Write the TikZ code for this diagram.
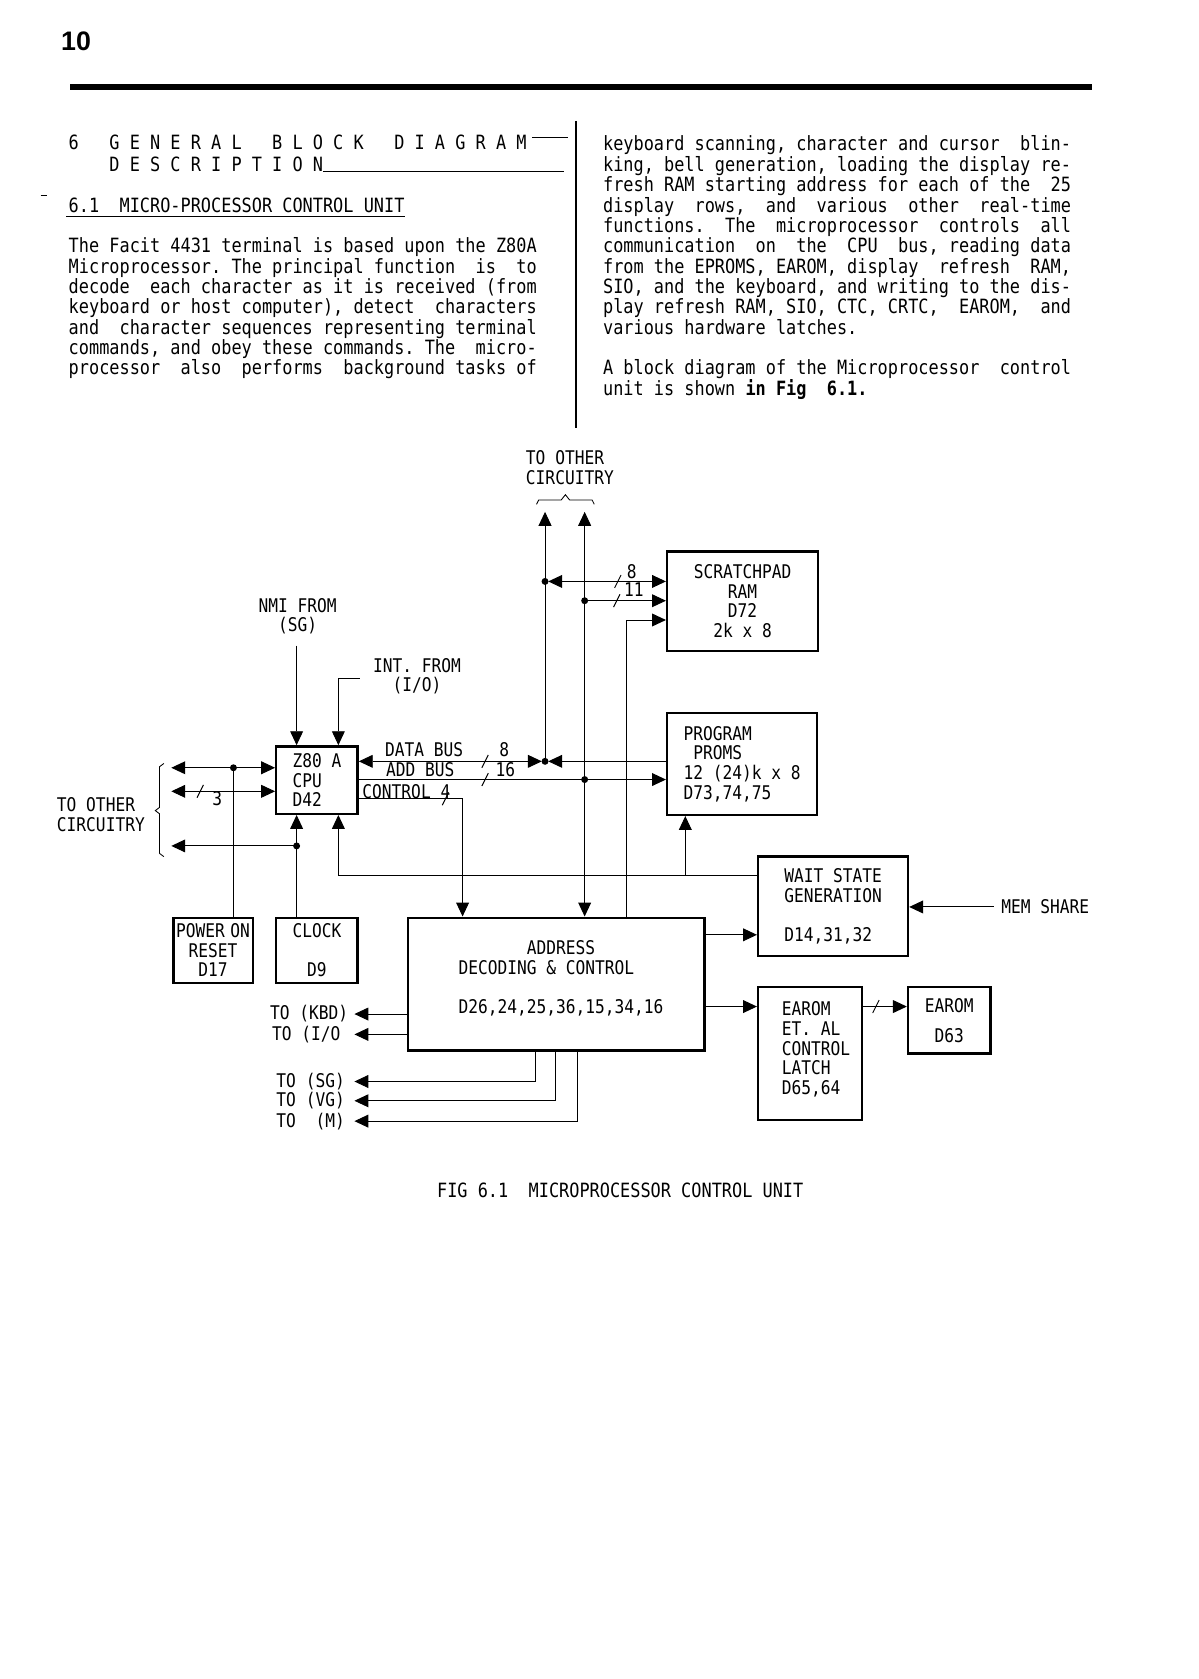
\documentclass[tikz,border=0pt]{standalone}
\usepackage{fontspec}
\newfontfamily\tw[FakeStretch=0.86]{DejaVu Sans Mono}
\newfontfamily\hd{Liberation Sans}
\usetikzlibrary{arrows.meta}
\frenchspacing
\begin{document}
\begin{tikzpicture}[x=1pt,y=-1pt,
  body/.style={inner sep=0pt, anchor=base west, font=\tw\fontsize{18.35}{19}\selectfont},
  dg/.style={inner sep=0pt, font=\tw\fontsize{17.6}{18.3}\selectfont},
  blk/.style={draw, line width=2.2pt, inner sep=0pt, dg},
  wire/.style={line width=0.9pt},
  arr/.style={wire, -{Triangle[length=13pt,width=12pt]}},
  biarr/.style={wire, {Triangle[length=13pt,width=12pt]}-{Triangle[length=13pt,width=12pt]}},
  jdot/.style={circle, fill, inner sep=0pt, minimum size=6.5pt},
  tick/.style={line width=0.9pt}
]
\fill[white] (0,0) rectangle (1119,1568);
\useasboundingbox (0,0) rectangle (1119,1568);

% ---------- page header ----------
\node[inner sep=0pt, font=\hd\bfseries\fontsize{25}{25}\selectfont] (pno) at (71,39) {10};
\fill (65,78) rectangle (1020,84);
\draw[line width=1.5pt] (538,113) -- (538,400);

% ---------- headings ----------
\node[body] (h1) at (64,140) {6~~~G~E~N~E~R~A~L~~~B~L~O~C~K~~~D~I~A~G~R~A~M};
\node[body] (h2) at (102,160) {D~E~S~C~R~I~P~T~I~O~N};
\draw[line width=1pt] (497,128) -- (530,128);
\draw[line width=1pt] (302,160) -- (527,160);
\node[body] (h3) at (64,198) {6.1~ MICRO-PROCESSOR CONTROL UNIT};
\draw[line width=1.2pt] (62,202) -- (378,202);
\draw[line width=1pt] (38,183) -- (44,183);

% ---------- left column ----------
\node[body] (l1) at (64,236) {The Facit 4431 terminal is based upon the Z80A};
\node[body] (l2) at (64,255) {Microprocessor. The principal function~ is~ to};
\node[body] (l3) at (64,274) {decode~ each character as it is received (from};
\node[body] (l4) at (64,293) {keyboard or host computer), detect~ characters};
\node[body] (l5) at (64,312) {and~ character sequences representing terminal};
\node[body] (l6) at (64,331) {commands, and obey these commands. The~ micro-};
\node[body] (l7) at (64,350) {processor~ also~ performs~ background tasks of};

% ---------- right column ----------
\node[body] (r1) at (563,141) {keyboard scanning, character and cursor~ blin-};
\node[body] (r2) at (563,160) {king, bell generation, loading the display re-};
\node[body] (r3) at (563,179) {fresh RAM starting address for each of the~ 25};
\node[body] (r4) at (563,198) {display~ rows,~ and~ various~ other~ real-time};
\node[body] (r5) at (563,217) {functions.~ The~ microprocessor~ controls~ all};
\node[body] (r6) at (563,236) {communication~ on~ the~ CPU~ bus, reading data};
\node[body] (r7) at (563,255) {from the EPROMS, EAROM, display~ refresh~ RAM,};
\node[body] (r8) at (563,274) {SIO, and the keyboard, and writing to the dis-};
\node[body] (r9) at (563,293) {play refresh RAM, SIO, CTC, CRTC,~ EAROM,~ and};
\node[body] (r10) at (563,312) {various hardware latches.};
\node[body] (r11) at (563,350) {A block diagram of the Microprocessor~ control};
\node[body] (r12) at (563,369) {unit is shown {\bfseries in Fig~ 6.1.}};

% ---------- blocks ----------
\node[blk, minimum width=76pt, minimum height=63pt, align=left] (cpu) at (296,728.5) {Z80 A\\CPU\\D42};
\node[blk, minimum width=141pt, minimum height=93pt, align=center] (scr) at (693.5,561.5) {SCRATCHPAD\\RAM\\D72\\2k x 8};
\node[blk, minimum width=140pt, minimum height=95pt, align=left] (prom) at (693,713.5) {PROGRAM\\~PROMS\\12 (24)k x 8\\D73,74,75};
\node[blk, minimum width=140pt, minimum height=93pt, align=left] (wait) at (778,846.5) {WAIT STATE\\GENERATION\\[18.3pt]D14,31,32};
\node[blk, minimum width=277pt, minimum height=124pt] (addr) at (519.5,919) {};
\node[dg, align=left, anchor=west] (addrT) at (428,913.5) {~~~~~~~ADDRESS\\DECODING \& CONTROL\\[18.3pt]D26,24,25,36,15,34,16};
\node[blk, minimum width=74pt, minimum height=61pt, align=center] (rst) at (199,887.5) {POWER\kern-4pt\ ON\\RESET\\D17};
\node[blk, minimum width=76pt, minimum height=61pt, align=center] (clk) at (296,887.5) {CLOCK\\[18.3pt]D9};
\node[blk, minimum width=97pt, minimum height=124pt] (latch) at (756.5,984) {};
\node[dg, align=left, anchor=west] (latchT) at (730,980) {EAROM\\ET. AL\\CONTROL\\LATCH\\D65,64};
\node[blk, minimum width=77pt, minimum height=62pt, align=center] (ear) at (886.5,953) {EAROM\\[9.7pt]D63};

% ---------- labels ----------
\node[dg, align=left, anchor=west] (topc) at (491,436.5) {TO OTHER\\CIRCUITRY};
\node[dg, align=center] (nmi) at (278,575.5) {NMI FROM\\(SG)};
\node[dg, align=center] (intl) at (389.5,631.5) {INT. FROM\\(I/O)};
\node[dg] (dbl) at (396,700) {DATA BUS};
\node[dg] (abl) at (392.5,719) {ADD BUS};
\node[dg] (cbl) at (379.5,739) {CONTROL 4};
\node[dg] (n8a) at (471,700) {8};
\node[dg] (n16) at (472,719) {16};
\node[dg] (n8b) at (590,534) {8};
\node[dg] (n11) at (592,551) {11};
\node[dg] (n3) at (203,746) {3};
\node[dg, align=left, anchor=west] (lcirc) at (53,760.5) {TO OTHER\\CIRCUITRY};
\node[dg, anchor=west] (mem) at (935,847) {MEM SHARE};
\node[dg, anchor=west] (kbd) at (252,947) {TO (KBD)};
\node[dg, anchor=west] (io) at (254,966) {TO (I/O};
\node[dg, anchor=west] (sg) at (258,1010) {TO (SG)};
\node[dg, anchor=west] (vg) at (258,1028) {TO (VG)};
\node[dg, anchor=west] (mm) at (258,1047) {TO~ (M)};
\node[body] (cap) at (408,1118) {FIG 6.1~ MICROPROCESSOR CONTROL UNIT};

% ---------- braces ----------
\draw[line width=0.8pt] (501,471) -- (503,467) -- (524,467) -- (528,462) -- (532,467) -- (553,467) -- (555,471);
\draw[line width=0.8pt] (153,713) -- (149,716) -- (149,754) -- (145,757) -- (149,760) -- (149,797) -- (153,800);

% ---------- coordinates ----------
\coordinate (t1) at (509,478);
\coordinate (t2) at (546,478);
\coordinate (dj) at (509,711);
\coordinate (sj) at (509,543);
\coordinate (sa) at (546,561);
\coordinate (sc) at (585,579);
\coordinate (aj) at (546,728);
\coordinate (cc) at (432,746);
\coordinate (nmiA) at (277,603);
\coordinate (intA) at (336,634);
\coordinate (wl) at (316,818);
\coordinate (pw) at (640,818);
\coordinate (ms) at (928,847);
\coordinate (okbd) at (331,947);
\coordinate (oio) at (331,966);
\coordinate (osg) at (331,1010);
\coordinate (ovg) at (331,1028);
\coordinate (om) at (331,1047);
\coordinate (xsg) at (500,1010);
\coordinate (xvg) at (519,1028);
\coordinate (xm) at (539,1047);
\coordinate (lo1) at (160,717);
\coordinate (lo2) at (160,739);
\coordinate (lo3) at (160,790);
\coordinate (rj) at (218,717);
\coordinate (cj) at (277,790);
\path ([yshift=46pt]addr.east) coordinate (aw);
\path ([yshift=-21pt]addr.east) coordinate (al);

% ---------- connectors ----------
\draw[arr] (nmiA) -- (nmiA |- cpu.north);
\draw[arr] (intA) -| ([xshift=20pt]cpu.north);
\draw[biarr, shorten >=3pt] (cpu.east |- dj) -- (dj);
\draw[arr, shorten >=3pt] (prom.west |- dj) -- (dj);
\draw[arr] (dj) -- (t1);
\draw[biarr] (t2) -- (t2 |- addr.north);
\draw[biarr, shorten <=3pt] (sj) -- (sj -| scr.west);
\draw[arr] (sa) -- (sa -| scr.west);
\draw[arr] (sc |- addr.north) |- (sc -| scr.west);
\draw[arr] (cpu.east |- aj) -- (aj -| prom.west);
\draw[arr] (cpu.east |- cc) -| (cc |- addr.north);
\draw[arr] (wl -| wait.west) -| ([xshift=20pt]cpu.south);
\draw[arr] (pw) -- (pw |- prom.south);
\draw[arr] (aw) -- (aw -| wait.west);
\draw[arr] (al) -- (al -| latch.west);
\draw[arr] (al -| latch.east) -- (al -| ear.west);
\draw[arr] (ms) -- (ms -| wait.east);
\draw[arr] (okbd -| addr.west) -- (okbd);
\draw[arr] (oio -| addr.west) -- (oio);
\draw[arr] (xsg |- addr.south) -- (xsg) -- (osg);
\draw[arr] (xvg |- addr.south) -- (xvg) -- (ovg);
\draw[arr] (xm |- addr.south) -- (xm) -- (om);
\draw[biarr] (lo1) -- (lo1 -| cpu.west);
\draw[biarr] (lo2) -- (lo2 -| cpu.west);
\draw[wire] (rj |- rst.north) -- (rj);
\draw[arr] (cj |- clk.north) -- (cj |- cpu.south);
\draw[arr] (cj) -- (lo3);

% ---------- junction dots ----------
\node[jdot] (d1) at (dj) {};
\node[jdot] (d2) at (sj) {};
\node[jdot] (d3) at (sa) {};
\node[jdot] (d4) at (aj) {};
\node[jdot] (d5) at (rj) {};
\node[jdot] (d6) at (cj) {};

% ---------- bus slashes ----------
\draw[tick] (450,717) -- (456,705);
\draw[tick] (450,734) -- (456,722);
\draw[tick] (413,752) -- (419,740);
\draw[tick] (574,549) -- (580,537);
\draw[tick] (573,567) -- (579,555);
\draw[tick] (184,745) -- (190,733);
\draw[tick] (815,946) -- (821,934);
\end{tikzpicture}
\end{document}
